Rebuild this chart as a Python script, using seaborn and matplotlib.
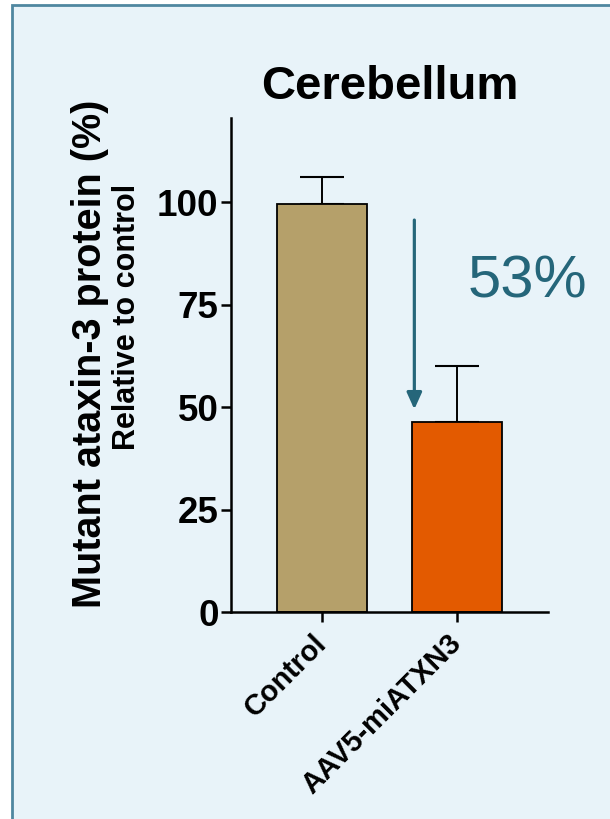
import pandas as pd
import matplotlib
matplotlib.use("Agg")
import matplotlib.pyplot as plt
import seaborn as sns
from matplotlib.patches import Rectangle

# data
groups = ["Control", "AAV5-miATXN3"]
means = [99.6, 46.3]
sd_upper = [6.4, 13.7]
bar_colors = ["#B5A06A", "#E35A00"]
yticks = [0, 25, 50, 75, 100]
reduction_label = "53%"
arrow_start = 96.3
arrow_end = 48.8

BG = "#E8F3F9"
TEAL = "#25667A"

sns.set_style("ticks")
plt.rcParams["font.family"] = ["Liberation Sans", "DejaVu Sans"]
plt.rcParams["text.color"] = "black"
plt.rcParams["xtick.color"] = "black"
plt.rcParams["ytick.color"] = "black"
plt.rcParams["axes.edgecolor"] = "black"

df = pd.DataFrame({"group": groups, "mean": means})

fig = plt.figure(figsize=(6.1, 8.19), dpi=100)
fig.patch.set_facecolor("white")
# light blue panel with a frame on the left/top
panel = Rectangle((12 / 610, -0.1), 1.2, 1 - 5 / 819 + 0.1,
                  transform=fig.transFigure, facecolor=BG,
                  edgecolor="#4F87A0", linewidth=2.0, zorder=-10)
fig.add_artist(panel)

ax = fig.add_axes([231 / 610, 1 - 612.3 / 819, (548 - 231) / 610, (612.3 - 118) / 819])
ax.set_zorder(5)
ax.patch.set_alpha(0)

sns.barplot(data=df, x="group", y="mean", hue="group", palette=bar_colors,
            saturation=1, width=0.66, edgecolor="black", linewidth=1.3,
            legend=False, ax=ax, zorder=2)
ax.errorbar(range(len(groups)), means, yerr=[[0] * len(groups), sd_upper],
            fmt="none", ecolor="black", elinewidth=1.4, capsize=16,
            capthick=1.5, zorder=1)

ax.set_ylim(0, 120.5)
ax.set_xlim(-0.674, 1.674)
ax.set_yticks(yticks)
ax.set_yticklabels([str(t) for t in yticks], fontsize=26.5, fontweight="bold")
ax.set_xticks(range(len(groups)))
ax.set_xticklabels(groups, rotation=45, ha="right", va="center",
                   rotation_mode="anchor", fontsize=21, fontweight="bold")
ax.tick_params(axis="x", length=7, width=1.8, pad=12)
ax.tick_params(axis="y", length=7, width=1.8, pad=2)
for s in ["left", "bottom"]:
    ax.spines[s].set_linewidth(1.8)
sns.despine(ax=ax)
ax.set_xlabel("")
ax.set_ylabel("")

# reduction arrow and label
ax.annotate("", xy=(0.684, arrow_end), xytext=(0.684, arrow_start),
            arrowprops=dict(arrowstyle="-|>,head_width=0.45,head_length=1.0",
                            color=TEAL, lw=2.3), zorder=3)
ax.text(1.52, 80.5, reduction_label, color=TEAL, fontsize=43,
        ha="center", va="center", clip_on=False)

ax.set_title("Cerebellum", fontsize=34, fontweight="bold", pad=14)
fig.text(90 / 610, 1 - 353.5 / 819, "Mutant ataxin-3 protein (%)", rotation=90,
         fontsize=28.5, fontweight="bold", ha="center", va="center")
fig.text(127 / 610, 1 - 316.5 / 819, "Relative to control", rotation=90,
         fontsize=22, fontweight="bold", ha="center", va="center")

fig.savefig("out.png", dpi=100, facecolor=fig.get_facecolor())
